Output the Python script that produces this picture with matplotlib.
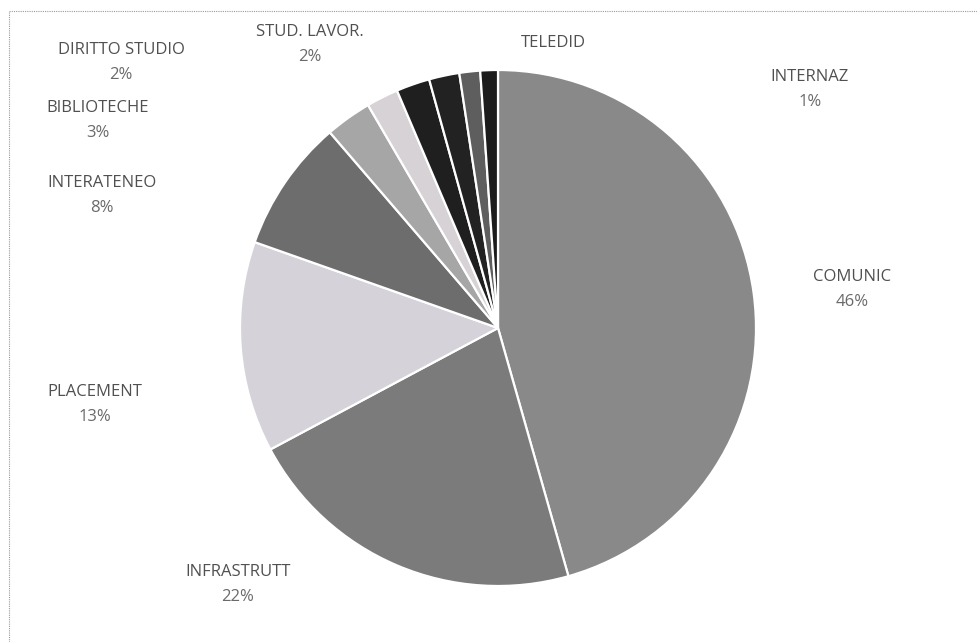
import matplotlib.pyplot as plt
from matplotlib.lines import Line2D

# slices, clockwise from 12 o'clock
categories = ["COMUNIC", "INFRASTRUTT", "PLACEMENT", "INTERATENEO", "BIBLIOTECHE",
              "DIRITTO STUDIO", "STUD. LAVOR.", "", "TELEDID", "INTERNAZ"]
shares = [45.6, 21.6, 13.2, 8.3, 2.9, 2.0, 2.1, 1.9, 1.3, 1.1]
show_pct = [True, True, True, True, True, True, True, False, False, True]
colors = ["#898989", "#7b7b7b", "#d6d2d9", "#6d6d6d", "#a6a6a6",
          "#d6d2d6", "#1f1f1f", "#222222", "#5e5e5e", "#1c1c1c"]

# label anchor points in pixels (name line), placed by hand like the original
label_px = [(852, 277), (238, 572), (95, 392), (102, 183), (98, 108),
            (121, 50), (310, 32), None, (553, 43), (810, 77)]

W, H = 977, 642
cx, cy, r = 498, 328, 258

fig = plt.figure(figsize=(W / 100, H / 100), dpi=100)
ax = fig.add_axes([(cx - r) / W, (H - cy - r) / H, 2 * r / W, 2 * r / H])
ax.pie(shares, colors=colors, startangle=90, counterclock=False, radius=1,
       wedgeprops=dict(edgecolor="white", linewidth=1.6))
ax.set_xlim(-1, 1)
ax.set_ylim(-1, 1)
ax.set_aspect("equal")
ax.axis("off")

font = dict(family="Open Sans", fontsize=12, ha="center", va="center")
for name, val, pct, pos in zip(categories, shares, show_pct, label_px):
    if pos is None:
        continue
    x, y = pos
    fig.text(x / W, 1 - y / H, name, color="#505050", **font)
    if pct:
        fig.text(x / W, 1 - (y + 25) / H, f"{round(val)}%", color="#6a6a6a", **font)

# dotted chart frame (top and left edges visible)
fig.add_artist(Line2D([9 / W, 1], [1 - 11 / H, 1 - 11 / H], color="#9a9a9a",
                      linewidth=0.8, linestyle=(0, (1, 1))))
fig.add_artist(Line2D([9 / W, 9 / W], [0, 1 - 11 / H], color="#9a9a9a",
                      linewidth=0.8, linestyle=(0, (1, 1))))

fig.savefig("out.png", dpi=100)
